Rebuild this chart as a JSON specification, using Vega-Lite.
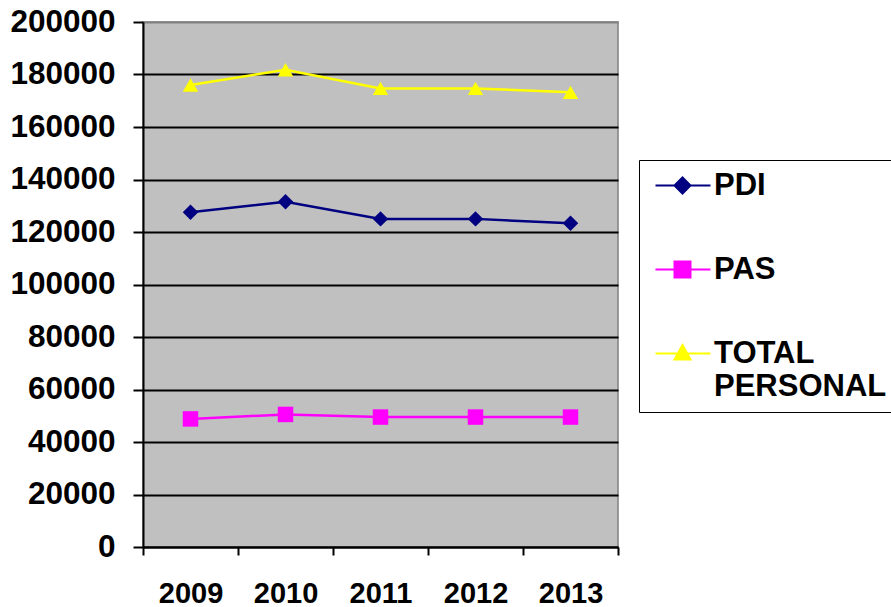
{
  "$schema": "https://vega.github.io/schema/vega-lite/v6.json",
  "width": 475,
  "height": 525,
  "autosize": {"type": "none"},
  "padding": {"left": 143, "top": 22, "right": 273, "bottom": 60},
  "background": "white",
  "config": {
    "view": {"fill": "#C0C0C0", "stroke": "#808080", "strokeWidth": 1.5},
    "font": "Liberation Sans"
  },
  "data": {
    "values": [
      {"year": 2009, "series": "PDI", "value": 127500},
      {"year": 2010, "series": "PDI", "value": 131500},
      {"year": 2011, "series": "PDI", "value": 125000},
      {"year": 2012, "series": "PDI", "value": 125000},
      {"year": 2013, "series": "PDI", "value": 123300},
      {"year": 2009, "series": "PAS", "value": 48800},
      {"year": 2010, "series": "PAS", "value": 50500},
      {"year": 2011, "series": "PAS", "value": 49500},
      {"year": 2012, "series": "PAS", "value": 49500},
      {"year": 2013, "series": "PAS", "value": 49500},
      {"year": 2009, "series": "TOTAL PERSONAL", "value": 176000},
      {"year": 2010, "series": "TOTAL PERSONAL", "value": 181800},
      {"year": 2011, "series": "TOTAL PERSONAL", "value": 174700},
      {"year": 2012, "series": "TOTAL PERSONAL", "value": 174700},
      {"year": 2013, "series": "TOTAL PERSONAL", "value": 173200}
    ]
  },
  "encoding": {
    "x": {
      "field": "year",
      "type": "quantitative",
      "scale": {"domain": [2008.5, 2013.5], "nice": false, "zero": false},
      "axis": {
        "title": null,
        "grid": false,
        "values": [2008.5, 2009.5, 2010.5, 2011.5, 2012.5, 2013.5],
        "labelExpr": "datum.value < 2013 ? toString(datum.value + 0.5) : ''",
        "labelOffset": 47.5,
        "labelOverlap": false,
        "labelBound": false,
        "labelFlush": false,
        "labelFont": "Liberation Sans",
        "labelFontSize": 29,
        "labelFontWeight": "bold",
        "labelColor": "black",
        "labelPadding": 24,
        "tickSize": 8,
        "tickColor": "black",
        "tickWidth": 2,
        "domainColor": "black",
        "domainWidth": 2
      }
    },
    "y": {
      "field": "value",
      "type": "quantitative",
      "scale": {"domain": [0, 200000], "nice": false},
      "axis": {
        "title": null,
        "values": [0, 20000, 40000, 60000, 80000, 100000, 120000, 140000, 160000, 180000, 200000],
        "format": "d",
        "grid": true,
        "gridColor": {"condition": {"test": "datum.value == 200000", "value": "#808080"}, "value": "black"},
        "gridWidth": 2,
        "gridOpacity": 1,
        "labelFont": "Liberation Sans",
        "labelFontSize": 31.5,
        "labelFontWeight": "bold",
        "labelColor": "black",
        "labelPadding": 18,
        "labelOverlap": false,
        "labelFlush": false,
        "tickSize": 10,
        "tickColor": "black",
        "tickWidth": 2,
        "domainColor": "black",
        "domainWidth": 2
      }
    },
    "color": {
      "field": "series",
      "type": "nominal",
      "scale": {"domain": ["PDI", "PAS", "TOTAL PERSONAL"], "range": ["#000080", "#FF00FF", "#FFFF00"]},
      "legend": {
        "title": null,
        "orient": "none",
        "legendX": 496,
        "legendY": 138,
        "padding": 10,
        "strokeColor": "black",
        "symbolSize": 400,
        "labelOffset": 34,
        "labelFont": "Liberation Sans",
        "labelFontSize": 31,
        "labelFontWeight": "bold",
        "labelColor": "black",
        "labelLimit": 0,
        "rowPadding": 52,
        "labelExpr": "datum.label == 'TOTAL PERSONAL' ? ['TOTAL', 'PERSONAL'] : datum.label",
        "encode": {
          "symbols": {
            "update": {
              "shape": {"signal": "datum.value == 'PDI' ? 'M-0.9,0L4.6,0M1.0,0L1.8,-0.8L2.6,0L1.8,0.8Z' : datum.value == 'PAS' ? 'M-0.9,0L4.6,0M1.0,-0.8L2.6,-0.8L2.6,0.8L1.0,0.8Z' : 'M-0.9,0L4.6,0M1.8,-0.85L2.6,0.6L1.0,0.6Z'"},
              "fill": {"signal": "scale('color', datum.value)"},
              "stroke": {"signal": "scale('color', datum.value)"},
              "strokeWidth": {"value": 2},
              "opacity": {"value": 1},
              "fillOpacity": {"value": 1},
              "strokeOpacity": {"value": 1}
            }
          },
          "labels": {
            "update": {
              "lineHeight": {"value": 33}
            }
          }
        }
      }
    }
  },
  "layer": [
    {"mark": {"type": "line", "strokeWidth": 2.5}},
    {
      "transform": [{"filter": "datum.series == 'PDI'"}],
      "mark": {"type": "point", "filled": true, "opacity": 1, "size": 240, "shape": "diamond"}
    },
    {
      "transform": [{"filter": "datum.series == 'PAS'"}],
      "mark": {"type": "point", "filled": true, "opacity": 1, "size": 240, "shape": "square"}
    },
    {
      "transform": [{"filter": "datum.series == 'TOTAL PERSONAL'"}],
      "mark": {"type": "point", "filled": true, "opacity": 1, "size": 240, "shape": "triangle-up"}
    }
  ]
}
